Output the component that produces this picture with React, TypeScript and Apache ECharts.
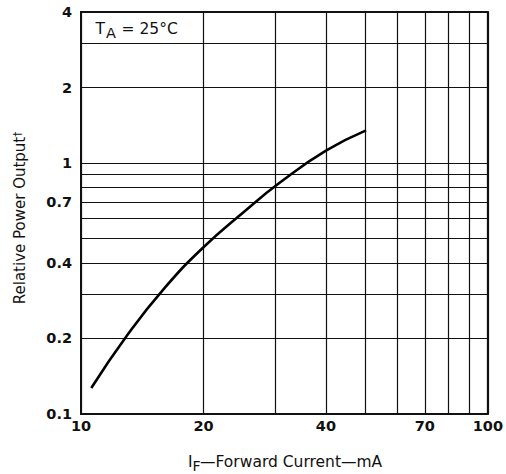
import React, { useEffect, useRef } from "react";
import * as echarts from "echarts";

const xGrid = [10, 20, 30, 40, 50, 60, 70, 80, 90, 100];
const xLabels = [10, 20, 40, 70, 100];
const yGrid = [0.1, 0.2, 0.3, 0.4, 0.5, 0.6, 0.7, 0.8, 0.9, 1, 2, 3, 4];
const yLabels = [0.1, 0.2, 0.4, 0.7, 1, 2, 4];

const current = [10.6, 13, 16, 20, 25, 31, 40, 50.2];
const power = [0.127, 0.2065, 0.316, 0.462, 0.634, 0.842, 1.12, 1.35];

const lg = (v: number) => Math.log10(v);
const fmt = (v: number) => String(Math.round(Math.pow(10, v) * 1000) / 1000);
const FONT = "DejaVu Sans";

export default function App() {
  const ref = useRef<HTMLDivElement>(null);
  useEffect(() => {
    if (!ref.current) return;
    const chart = echarts.init(ref.current, undefined, { renderer: "svg" });
    const labelStyle = {
      fontSize: 14.5,
      fontWeight: "bold" as const,
      color: "#111",
      fontFamily: FONT,
      formatter: fmt,
    };
    const txt = { fontFamily: FONT, fill: "#111", textVerticalAlign: "middle" as const };
    chart.setOption({
      animation: false,
      grid: {
        left: 81,
        right: 17,
        top: 12,
        bottom: 60,
        show: true,
        borderColor: "#111",
        borderWidth: 2,
        backgroundColor: "transparent",
      },
      xAxis: {
        type: "value",
        min: lg(10),
        max: lg(100),
        axisLine: { show: false },
        axisTick: { show: false, customValues: xGrid.map(lg) },
        splitLine: { show: true, lineStyle: { color: "#111", width: 1.2 } },
        axisLabel: { ...labelStyle, customValues: xLabels.map(lg), margin: 4 },
      },
      yAxis: {
        type: "value",
        min: lg(0.1),
        max: lg(4),
        axisLine: { show: false },
        axisTick: { show: false, customValues: yGrid.map(lg) },
        splitLine: { show: true, lineStyle: { color: "#111", width: 1.2 } },
        axisLabel: { ...labelStyle, customValues: yLabels.map(lg), margin: 9 },
      },
      series: [
        {
          type: "line",
          data: current.map((c, i) => [lg(c), lg(power[i])]),
          smooth: 0.5,
          symbol: "none",
          lineStyle: { color: "#000", width: 2.6 },
        },
      ],
      graphic: [
        { type: "text", x: 95.5, y: 28.5, style: { ...txt, text: "T", fontSize: 15.5 } },
        { type: "text", x: 106, y: 32.5, style: { ...txt, text: "A", fontSize: 14.5 } },
        { type: "text", x: 121.5, y: 28.5, style: { ...txt, text: "= 25°C", fontSize: 15.5 } },
        { type: "text", x: 188, y: 462, style: { ...txt, text: "I", fontSize: 15.5 } },
        { type: "text", x: 192.5, y: 465.5, style: { ...txt, text: "F", fontSize: 14 } },
        { type: "text", x: 200, y: 462, style: { ...txt, text: "—Forward Current—mA", fontSize: 15.5 } },
        {
          type: "text",
          x: 20,
          y: 218,
          rotation: Math.PI / 2,
          style: {
            ...txt,
            text: "Relative Power Output{sup|†}",
            fontSize: 15,
            textAlign: "center",
            rich: { sup: { fontSize: 10, fontFamily: FONT, fill: "#111", verticalAlign: "top" } },
          },
        },
      ],
    });
    return () => chart.dispose();
  }, []);
  return <div ref={ref} style={{ width: 506, height: 474, position: "absolute", left: 0, top: 0 }} />;
}
